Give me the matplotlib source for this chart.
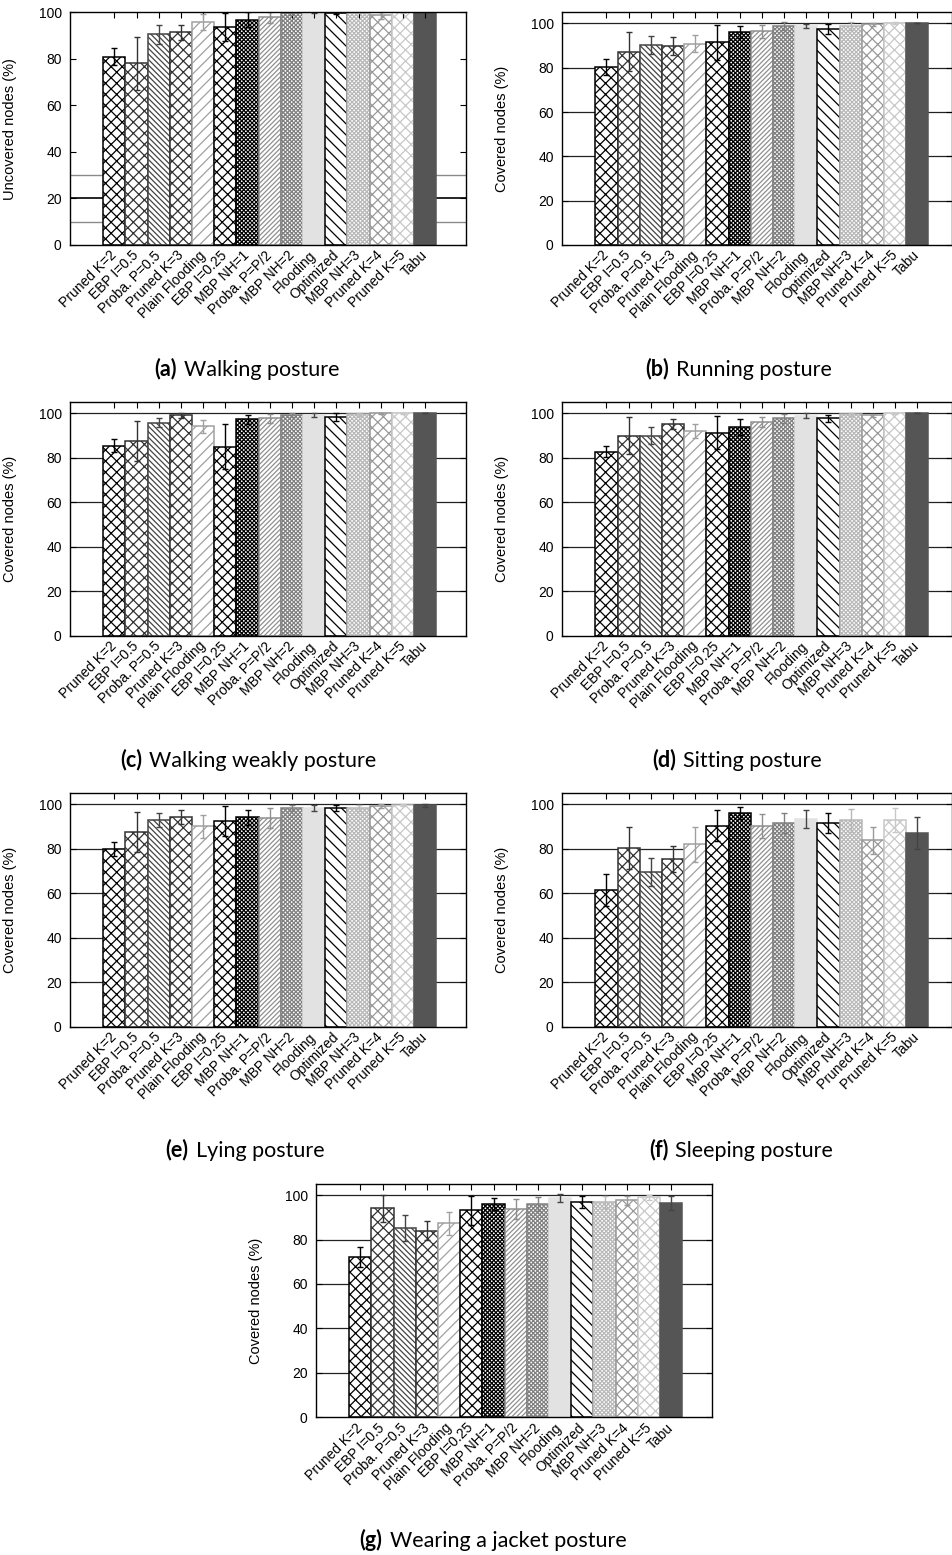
import matplotlib
matplotlib.use("Agg")
import matplotlib.pyplot as plt
from matplotlib.offsetbox import TextArea, HPacker, AnnotationBbox

plt.rcParams['font.family'] = ['Liberation Sans Narrow', 'Liberation Sans', 'DejaVu Sans']
plt.rcParams['hatch.linewidth'] = 0.9

labels = ["Pruned K=2", "EBP I=0.5", "Proba. P=0.5", "Pruned K=3", "Plain Flooding",
          "EBP I=0.25", "MBP NH=1", "Proba. P=P/2", "MBP NH=2", "Flooding",
          "Optimized", "MBP NH=3", "Pruned K=4", "Pruned K=5", "Tabu"]

walking = [81.0, 78.0, 90.5, 91.5, 95.8, 93.5, 96.8, 97.8, 99.8, 100, 99.8, 100, 98.8, 100, 100]
walking_err = [3.7, 11.5, 4.2, 3.2, 3.5, 6.0, 3.2, 2.5, 0.8, 0.5, 0.5, 0.5, 1.5, 0.5, 0.0]

running = [80.5, 87.3, 90.2, 89.7, 90.9, 91.4, 96.3, 96.4, 98.8, 98.8, 97.4, 98.8, 99.6, 100, 100]
running_err = [3.6, 9.0, 4.0, 4.0, 3.8, 7.8, 2.7, 3.0, 1.6, 1.0, 2.4, 1.6, 0.6, 0.4, 0.0]

weakly = [85.5, 87.6, 95.8, 99.1, 94.2, 85.1, 97.3, 97.8, 99.3, 99.3, 98.2, 99.6, 100, 100, 100]
weakly_err = [2.9, 9.0, 2.0, 1.2, 3.0, 10.0, 2.1, 2.0, 1.0, 1.0, 1.8, 0.7, 0.3, 0.3, 0.0]

sitting = [82.7, 90.0, 90.0, 95.2, 92.1, 91.3, 93.9, 96.0, 97.8, 99.0, 97.8, 99.6, 99.1, 100, 100]
sitting_err = [2.5, 8.2, 3.7, 2.4, 3.0, 7.4, 3.4, 2.2, 2.0, 1.0, 1.6, 0.7, 0.8, 0.3, 0.0]

lying = [80.0, 87.5, 93.0, 94.2, 90.1, 92.4, 94.3, 93.7, 98.5, 98.5, 98.5, 98.5, 99.3, 99.6, 99.6]
lying_err = [3.1, 9.0, 3.3, 3.1, 5.0, 6.7, 3.4, 4.5, 1.4, 1.4, 1.4, 1.4, 0.8, 0.5, 0.6]

sleeping = [61.5, 80.4, 69.6, 75.4, 82.1, 90.4, 96.0, 90.4, 91.5, 93.3, 91.5, 92.8, 83.9, 92.8, 87.2]
sleeping_err = [7.0, 9.5, 6.4, 5.7, 7.8, 6.9, 2.7, 5.5, 4.5, 4.0, 4.5, 5.0, 6.0, 5.4, 7.2]

jacket = [72.2, 94.0, 85.1, 84.0, 87.3, 93.1, 95.8, 93.7, 96.0, 98.7, 96.7, 96.7, 97.6, 99.0, 96.4]
jacket_err = [4.6, 6.0, 5.8, 4.2, 5.2, 6.6, 2.7, 4.5, 3.0, 1.7, 2.7, 2.7, 2.1, 1.0, 3.3]

# (hatch, edge/pattern colour, face colour) per bar
styles = [
    ('xxx', '#000000', 'white'),
    ('xxx', '#333333', 'white'),
    ('\\' * 6, '#444444', 'white'),
    ('xxx', '#333333', 'white'),
    ('///', '#a0a0a0', 'white'),
    ('xxx', '#000000', 'white'),
    ('x' * 8, '#000000', 'white'),
    ('/' * 7, '#909090', 'white'),
    ('x' * 8, '#808080', 'white'),
    ('', '#e2e2e2', '#e2e2e2'),
    ('\\' * 3, '#000000', 'white'),
    ('x' * 8, '#b8b8b8', 'white'),
    ('xxx', '#999999', 'white'),
    ('xxx', '#c8c8c8', 'white'),
    ('', '#555555', '#555555'),
]

W, H = 953, 1555
fig = plt.figure(figsize=(W / 100, H / 100), dpi=100)


def add_axes(x0, x1, ytop, ybot):
    return fig.add_axes([x0 / W, 1 - ybot / H, (x1 - x0) / W, (ybot - ytop) / H])


def panel(ax, vals, errs, ylabel, first=False):
    n = len(vals)
    xs = list(range(n))
    width_px = ax.get_position().width * W
    xlim = (-2.0, -2.0 + width_px / 22.2)
    if first:
        ax.set_ylim(0, 100)
        grid = [(10, '#8a8a8a', 1.0), (20, 'black', 1.2), (30, '#8a8a8a', 1.0)]
    else:
        ax.set_ylim(0, 105)
        grid = [(yv, '#222222', 0.9) for yv in (20, 40, 60, 80, 100)]
    for yv, c, lw in grid:
        ax.plot(xlim, [yv, yv], color=c, lw=lw, zorder=0.5, solid_capstyle='butt')
    for i in xs:
        h, ec, fc = styles[i]
        ax.bar(i, vals[i], width=1.0, color=fc, edgecolor=ec, hatch=h,
               linewidth=1.1, zorder=1)
        ax.errorbar(i, vals[i], yerr=errs[i], color=ec if fc == 'white' else '#444444',
                    lw=1.0, capsize=2.5, capthick=1.0, zorder=2)
    ax.set_xlim(*xlim)
    ax.set_yticks([0, 20, 40, 60, 80, 100])
    ax.tick_params(axis='y', direction='in', left=True, right=True, length=4,
                   labelsize=10, pad=6)
    ax.set_xticks(xs)
    ax.set_xticklabels(labels, rotation=45, ha='right', va='center',
                       rotation_mode='anchor', fontsize=10)
    ax.tick_params(axis='x', direction='in', top=True, bottom=True, length=4, pad=6)
    for t in ax.xaxis.get_major_ticks():
        t.tick1line.set_visible(False)
    for s in ax.spines.values():
        s.set_linewidth(1.0)
        s.set_zorder(3)
    ax.set_ylabel(ylabel, family=['Liberation Sans', 'DejaVu Sans'], fontsize=10.5)
    ax.yaxis.set_label_coords(-53 / width_px, 0.5)


def caption(x, y, tag, text):
    t1 = TextArea(tag, textprops=dict(family=['Lato', 'DejaVu Sans'], weight='bold', fontsize=15.5))
    t2 = TextArea(text, textprops=dict(family=['Lato', 'DejaVu Sans'], fontsize=15.5))
    box = HPacker(children=[t1, t2], align='baseline', pad=0, sep=5)
    ab = AnnotationBbox(box, (x / W, 1 - y / H), xycoords='figure fraction',
                        frameon=False, box_alignment=(0.5, 0.5))
    fig.add_artist(ab)


ax_a = add_axes(70, 466, 12.3, 245)
ax_b = add_axes(562, 952, 12.3, 245)
ax_c = add_axes(70, 466, 402.3, 635.7)
ax_d = add_axes(562, 952, 402.3, 635.7)
ax_e = add_axes(70, 466, 793.3, 1026.7)
ax_f = add_axes(562, 952, 793.3, 1026.7)
ax_g = add_axes(316, 712, 1184, 1417.3)

panel(ax_a, walking, walking_err, "Uncovered nodes (%)", first=True)
panel(ax_b, running, running_err, "Covered nodes (%)")
panel(ax_c, weakly, weakly_err, "Covered nodes (%)")
panel(ax_d, sitting, sitting_err, "Covered nodes (%)")
panel(ax_e, lying, lying_err, "Covered nodes (%)")
panel(ax_f, sleeping, sleeping_err, "Covered nodes (%)")
panel(ax_g, jacket, jacket_err, "Covered nodes (%)")

caption(247, 369, "(a)", "Walking posture")
caption(739, 369, "(b)", "Running posture")
caption(248, 760, "(c)", "Walking weakly posture")
caption(737, 760, "(d)", "Sitting posture")
caption(245, 1150, "(e)", "Lying posture")
caption(741, 1150, "(f)", "Sleeping posture")
caption(493, 1540, "(g)", "Wearing a jacket posture")

fig.savefig("out.png", dpi=100)
